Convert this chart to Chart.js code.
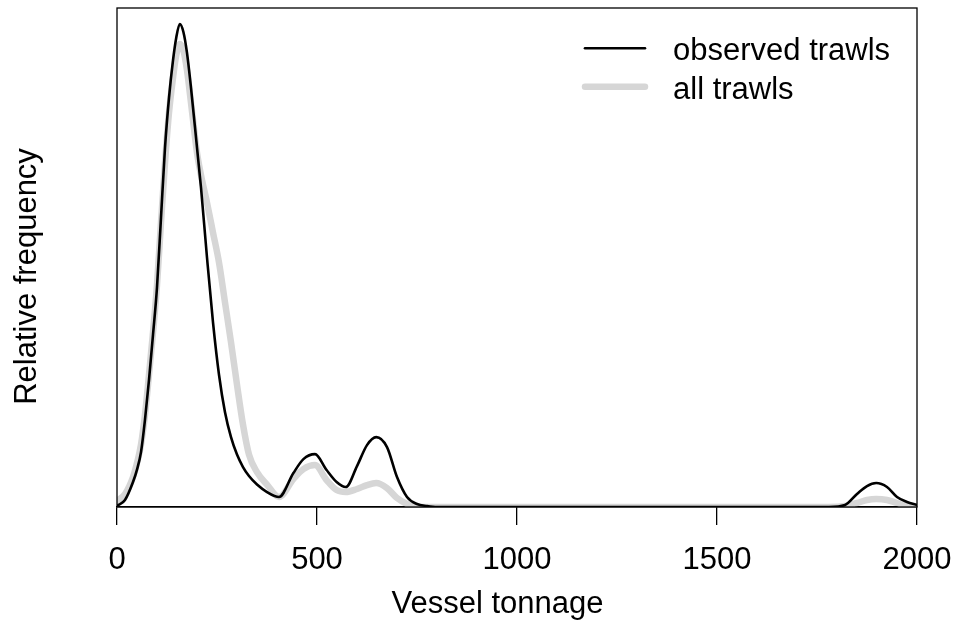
<!DOCTYPE html>
<html>
<head>
<meta charset="utf-8">
<title>Vessel tonnage density</title>
<script src="https://cdn.jsdelivr.net/npm/chart.js@4/dist/chart.umd.min.js"></script>
<style>
    body { margin: 0; background: #fff; }
    #wrap { width: 953px; height: 625px; }
</style>
</head>
<body>
<div id="wrap"><canvas id="densityChart" width="953" height="625"></canvas></div>
<script>
const tonnage = [0, 20, 40, 50, 60, 70, 80, 90, 100, 110, 120, 130, 140, 148, 157, 166, 175, 185,
    200, 210, 225, 240, 255, 270, 285, 300, 315, 330, 350, 375, 405,
    441, 466, 495, 524, 549, 572, 600, 625, 648, 675, 700, 725, 750, 775, 800,
    1000, 1200, 1400, 1600, 1780, 1820, 1850, 1875, 1898, 1925, 1950, 1975, 2000];

// Relative frequency (top of plot area = 1)
const observedTrawls = [0.002, 0.014, 0.050, 0.075, 0.110, 0.175, 0.255, 0.345, 0.440, 0.580, 0.720, 0.820, 0.895, 0.940, 0.968, 0.952, 0.910, 0.840,
    0.720, 0.640, 0.500, 0.370, 0.265, 0.190, 0.140, 0.105, 0.080, 0.062, 0.045, 0.030, 0.020,
    0.068, 0.096, 0.106, 0.074, 0.050, 0.040, 0.082, 0.124, 0.140, 0.120, 0.060, 0.020, 0.006, 0.002, 0,
    0, 0, 0, 0, 0, 0.004, 0.026, 0.042, 0.048, 0.040, 0.020, 0.010, 0.004];

const allTrawls = [0.012, 0.026, 0.060, 0.088, 0.125, 0.185, 0.265, 0.350, 0.445, 0.570, 0.690, 0.790, 0.860, 0.905, 0.928, 0.915, 0.875, 0.810,
    0.710, 0.665, 0.610, 0.550, 0.490, 0.410, 0.330, 0.245, 0.165, 0.105, 0.070, 0.045, 0.020,
    0.056, 0.076, 0.084, 0.054, 0.034, 0.030, 0.036, 0.044, 0.048, 0.038, 0.018, 0.006, 0, 0, 0,
    0, 0, 0, 0, 0, 0.002, 0.008, 0.014, 0.016, 0.014, 0.008, 0.002, 0];

const xTicks = [0, 500, 1000, 1500, 2000];

const FONT = "'Liberation Sans', Arial, Helvetica, sans-serif";
Chart.defaults.font.family = FONT;
Chart.defaults.color = '#000';

//////////////////////////////////
// Box, axis titles and legend
//////////////////////////////////
const framePlugin = {
    id: 'frame',
    afterDraw(chart) {
        const ctx = chart.ctx;
        const area = chart.chartArea;
        ctx.save();

        // box round the plot
        ctx.strokeStyle = '#000';
        ctx.lineWidth = 1.3;
        ctx.strokeRect(area.left, area.top, area.right - area.left, area.bottom - area.top);

        // axis titles
        ctx.fillStyle = '#000';
        ctx.font = '31px ' + FONT;
        ctx.textAlign = 'center';
        ctx.textBaseline = 'alphabetic';
        ctx.fillText('Vessel tonnage', (area.left + area.right) / 2 - 19.5, 613);

        ctx.save();
        ctx.translate(35.5, (area.top + area.bottom) / 2 + 19);
        ctx.rotate(-Math.PI / 2);
        ctx.fillText('Relative frequency', 0, 0);
        ctx.restore();

        // legend, top right inside the box
        ctx.textAlign = 'left';
        ctx.lineCap = 'round';
        chart.data.datasets.forEach((ds, i) => {
            const y = area.top + 40.3 + i * 38.4;
            ctx.strokeStyle = ds.borderColor;
            ctx.lineWidth = ds.borderWidth;
            ctx.beginPath();
            ctx.moveTo(area.right - 332, y);
            ctx.lineTo(area.right - 272, y);
            ctx.stroke();
            ctx.fillText(ds.label, area.right - 244, y + 12);
        });
        ctx.restore();
    }
};

const ctx = document.getElementById('densityChart').getContext('2d');
new Chart(ctx, {
    type: 'line',
    data: {
        datasets: [
            {
                label: 'observed trawls',
                data: tonnage.map((t, i) => ({ x: t, y: observedTrawls[i] })),
                borderColor: '#000000',
                borderWidth: 2.6,
                cubicInterpolationMode: 'monotone',
                borderCapStyle: 'round',
                borderJoinStyle: 'round',
                pointRadius: 0,
                fill: false
            },
            {
                label: 'all trawls',
                data: tonnage.map((t, i) => ({ x: t, y: allTrawls[i] })),
                borderColor: '#d6d6d6',
                borderWidth: 6.5,
                cubicInterpolationMode: 'monotone',
                borderCapStyle: 'round',
                borderJoinStyle: 'round',
                pointRadius: 0,
                fill: false
            }
        ]
    },
    options: {
        responsive: false,
        animation: false,
        layout: { padding: { left: 0, top: 8, right: 36, bottom: 0 } },
        plugins: {
            legend: { display: false },
            tooltip: { enabled: false }
        },
        scales: {
            x: {
                type: 'linear',
                min: 0,
                max: 2000,
                afterFit: scale => {
                    scale.height = 118;
                    // labels may hang past the box; keep the plot width fixed
                    scale.paddingLeft = 0;
                    scale.paddingRight = 0;
                },
                afterBuildTicks: scale => { scale.ticks = xTicks.map(v => ({ value: v })); },
                ticks: {
                    font: { size: 31 },
                    color: '#000',
                    padding: 17,
                    maxRotation: 0,
                    callback: value => String(value)
                },
                grid: {
                    drawOnChartArea: false,
                    drawTicks: true,
                    tickLength: 18,
                    color: '#000',
                    lineWidth: 1.3
                },
                border: { display: true, color: '#000', width: 1.3 }
            },
            y: {
                min: 0,
                max: 1,
                afterFit: scale => { scale.width = 117; },
                ticks: { display: false },
                grid: { display: false, drawTicks: false },
                border: { display: false }
            }
        }
    },
    plugins: [framePlugin]
});
</script>
</body>
</html>
